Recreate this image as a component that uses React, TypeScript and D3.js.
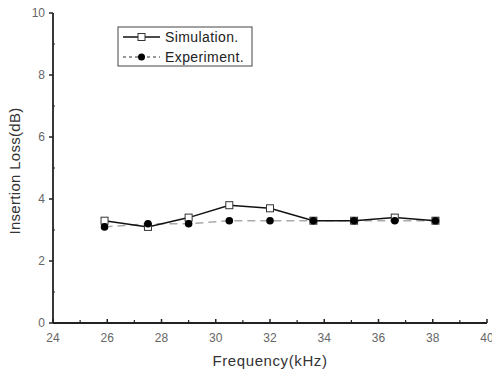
import React from "react";
import * as d3 from "d3";

const freq = [25.9, 27.5, 29.0, 30.5, 32.0, 33.6, 35.1, 36.6, 38.1];
const simulation = [3.3, 3.1, 3.4, 3.8, 3.7, 3.3, 3.3, 3.4, 3.3];
const experiment = [3.1, 3.2, 3.2, 3.3, 3.3, 3.3, 3.3, 3.3, 3.3];
const xTicks = [24, 26, 28, 30, 32, 34, 36, 38, 40];
const yTicks = [0, 2, 4, 6, 8, 10];
const xMinor = [25, 27, 29, 31, 33, 35, 37, 39];
const yMinor = [1, 3, 5, 7, 9];

export default function App() {
  const W = 492, H = 372;
  const x = d3.scaleLinear().domain([24, 40]).range([53, 487]);
  const y = d3.scaleLinear().domain([0, 10]).range([323, 13]);
  const line = d3.line<number>().x((_, i) => x(freq[i])).y((d) => y(d));
  const font = "Arial, 'Liberation Sans', sans-serif";
  return (
    <svg width={W} height={H} style={{ position: "absolute", left: 0, top: 0, background: "#fff" }} fontFamily={font}>
      {/* axes */}
      <line x1={x(24)} x2={x(40)} y1={y(0)} y2={y(0)} stroke="#222" strokeWidth={1.8} />
      <line x1={x(24)} x2={x(24)} y1={y(0)} y2={y(10)} stroke="#222" strokeWidth={1.8} />
      {xTicks.map((t) => (
        <g key={"xt" + t}>
          <line x1={x(t)} x2={x(t)} y1={y(0)} y2={y(0) - 4} stroke="#222" strokeWidth={1.5} />
          <text x={x(t)} y={y(0) + 19} textAnchor="middle" fontSize={12} fill="#666">{t}</text>
        </g>
      ))}
      {xMinor.map((t) => (
        <line key={"xm" + t} x1={x(t)} x2={x(t)} y1={y(0)} y2={y(0) - 3} stroke="#222" strokeWidth={1.2} />
      ))}
      {yTicks.map((t) => (
        <g key={"yt" + t}>
          <line x1={x(24) - 4} x2={x(24)} y1={y(t)} y2={y(t)} stroke="#222" strokeWidth={1.5} />
          <text x={45} y={y(t) + 4} textAnchor="end" fontSize={12} fill="#666">{t}</text>
        </g>
      ))}
      {yMinor.map((t) => (
        <line key={"ym" + t} x1={x(24)} x2={x(24) + 2} y1={y(t)} y2={y(t)} stroke="#222" strokeWidth={1.2} />
      ))}
      <text x={270} y={366} textAnchor="middle" fontSize={15} letterSpacing={0.6} fill="#333">Frequency(kHz)</text>
      <text transform={`translate(20,171) rotate(-90)`} textAnchor="middle" fontSize={15} letterSpacing={0.3} fill="#333">Insertion Loss(dB)</text>

      {/* experiment */}
      <path d={line(experiment) || ""} fill="none" stroke="#aaa" strokeWidth={1.5} strokeDasharray="8,5" />
      {/* simulation */}
      <path d={line(simulation) || ""} fill="none" stroke="#111" strokeWidth={1.5} />
      {simulation.map((v, i) => (
        <rect key={"s" + i} x={x(freq[i]) - 3.5} y={y(v) - 3.5} width={7} height={7} fill="#fff" stroke="#333" strokeWidth={1} />
      ))}
      {experiment.map((v, i) => (
        <circle key={"e" + i} cx={x(freq[i])} cy={y(v)} r={3.8} fill="#000" />
      ))}

      {/* legend */}
      <rect x={118} y={27} width={134} height={39} fill="#fff" stroke="#444" strokeWidth={1} />
      <line x1={123} x2={160} y1={37} y2={37} stroke="#111" strokeWidth={1.5} />
      <rect x={138} y={33.5} width={7} height={7} fill="#fff" stroke="#333" strokeWidth={1} />
      <text x={165} y={42} fontSize={14} letterSpacing={0.4} fill="#222">Simulation.</text>
      <line x1={123} x2={160} y1={57} y2={57} stroke="#777" strokeWidth={1.3} strokeDasharray="3,3" />
      <circle cx={141.5} cy={57} r={3.5} fill="#000" />
      <text x={165} y={62} fontSize={14} letterSpacing={0.4} fill="#222">Experiment.</text>
    </svg>
  );
}
